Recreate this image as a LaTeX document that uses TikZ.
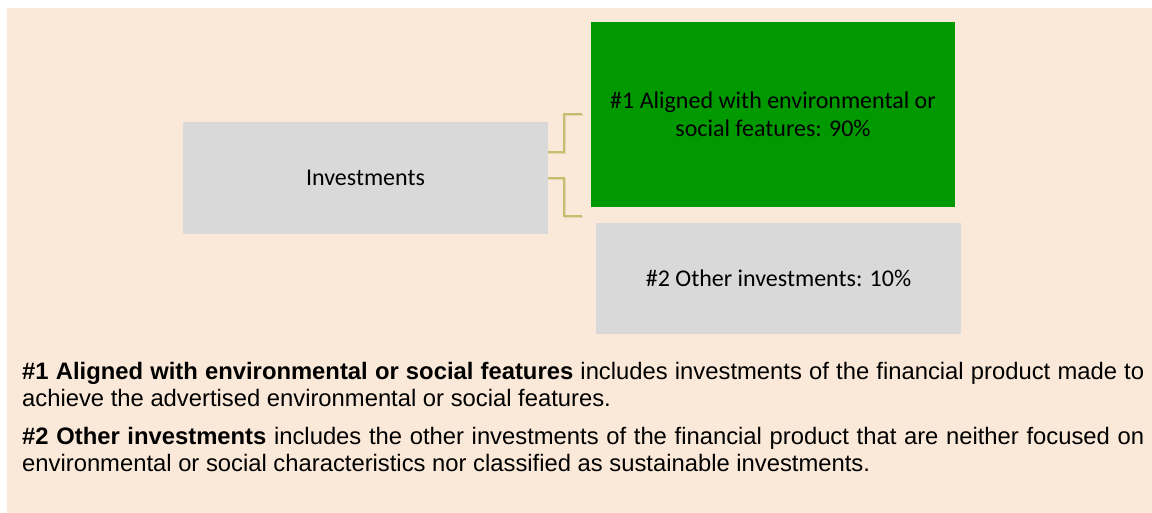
\documentclass[tikz,border=0pt]{standalone}
\usepackage{fontspec}
\setmainfont{Liberation Sans}
\newfontfamily\boxfont{Carlito}
\definecolor{bgbeige}{HTML}{FAE8D8}
\definecolor{boxgrey}{HTML}{D9D9D9}
\definecolor{boxgreen}{HTML}{009900}
\definecolor{connol}{HTML}{C8BD6E}
\definecolor{connsh}{HTML}{E3D7AE}
\tikzset{
  stepbox/.style={draw=none, inner sep=0pt, align=center, font=\boxfont\fontsize{24}{28.5}\selectfont, text=black},
  conn/.style={draw=connol, line width=1.6pt},
  connshadow/.style={draw=connsh, line width=1.6pt},
}
\begin{document}
\begin{tikzpicture}[x=1pt,y=-1pt]
\useasboundingbox (0,0) rectangle (1152,513);
\fill[white] (0,0) rectangle (1152,513);
\fill[bgbeige] (7,8) rectangle (1152,513);
\node[stepbox, fill=boxgrey, minimum width=365pt, minimum height=112pt] (inv) at (365.5,178) {Investments};
\node[stepbox, fill=boxgreen, minimum width=364pt, minimum height=185pt] (al) at (773,114.5) {\#1 Aligned with environmental or\\social features: 90\%};
\node[stepbox, fill=boxgrey, minimum width=365pt, minimum height=111pt] (oth) at (778.5,278.5) {\#2 Other investments: 10\%};
\coordinate (c1) at (582,114);
\coordinate (c2) at (582,216);
\draw[connshadow] ([shift={(1,1)}]inv.east |- 0,152) -- (565,153) |- ([shift={(1,1)}]c1);
\draw[connshadow] ([shift={(1,1)}]inv.east |- 0,178) -- (565,179) |- ([shift={(1,1)}]c2);
\draw[conn] (inv.east |- 0,152) -- (564,152) |- (c1);
\draw[conn] (inv.east |- 0,178) -- (564,178) |- (c2);
\node[anchor=base west, inner sep=0pt] (txt) at (22,379) {\vtop{\hsize=1122pt\parindent=0pt\parskip=10pt\fontsize{23.8}{27.5}\selectfont
\textbf{\#1 Aligned with environmental or social features} includes investments of the financial product made to achieve the advertised environmental or social features.\par
\textbf{\#2 Other investments} includes the other investments of the financial product that are neither focused on environmental or social characteristics nor classified as sustainable investments.\par}};
\end{tikzpicture}
\end{document}
